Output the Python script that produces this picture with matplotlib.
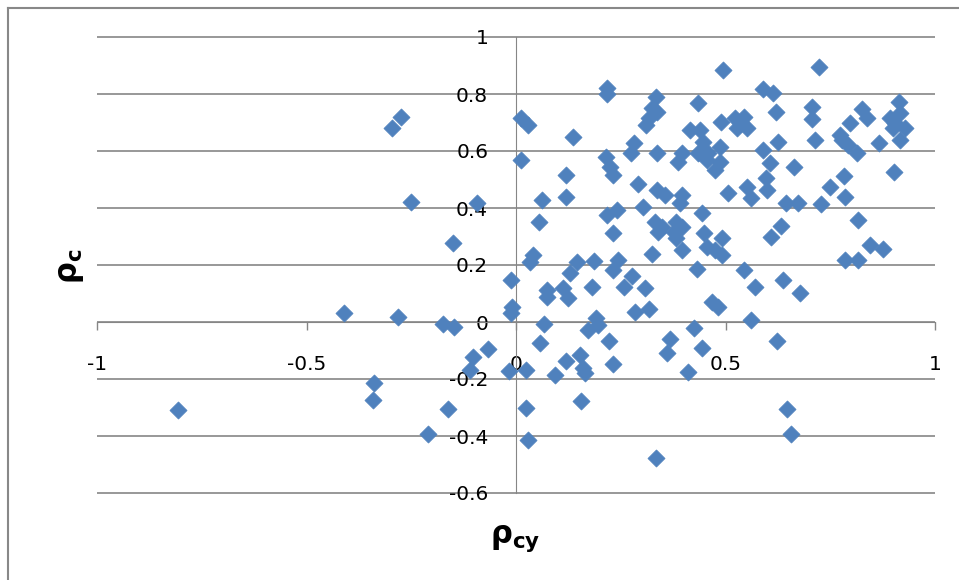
import numpy as np
import matplotlib
matplotlib.use("Agg")
import matplotlib.pyplot as plt
from matplotlib.lines import Line2D

plt.rcParams['font.family'] = 'DejaVu Sans'
plt.rcParams['axes.unicode_minus'] = False
plt.rcParams['mathtext.fontset'] = 'dejavusans'

# rho_cy (x) and rho_c (y)
rho_cy = [
    -0.806, -0.411, -0.338, -0.342, -0.297, -0.274, -0.281, -0.251, -0.209, -0.175,
    -0.163, -0.150, -0.147, -0.110, -0.102, -0.094, -0.068, -0.016, -0.013, -0.010,
    -0.013, 0.011, 0.029, 0.013, 0.023, 0.025, 0.029, 0.041, 0.033, 0.055,
    0.061, 0.068, 0.057, 0.073, 0.073, 0.093, 0.113, 0.119, 0.119, 0.119,
    0.125, 0.129, 0.137, 0.145, 0.153, 0.154, 0.161, 0.165, 0.173, 0.181,
    0.185, 0.191, 0.196, 0.215, 0.216, 0.218, 0.216, 0.224, 0.223, 0.231,
    0.232, 0.232, 0.232, 0.240, 0.244, 0.258, 0.274, 0.278, 0.282, 0.284,
    0.290, 0.304, 0.308, 0.310, 0.318, 0.318, 0.324, 0.324, 0.332, 0.334,
    0.334, 0.336, 0.336, 0.337, 0.340, 0.348, 0.356, 0.361, 0.368, 0.376,
    0.383, 0.383, 0.387, 0.391, 0.395, 0.395, 0.395, 0.395, 0.411, 0.415,
    0.426, 0.431, 0.434, 0.435, 0.439, 0.443, 0.443, 0.446, 0.449, 0.455,
    0.459, 0.467, 0.475, 0.475, 0.483, 0.487, 0.488, 0.489, 0.491, 0.491,
    0.495, 0.505, 0.523, 0.543, 0.527, 0.551, 0.537, 0.545, 0.551, 0.560,
    0.562, 0.570, 0.589, 0.589, 0.597, 0.598, 0.606, 0.608, 0.614, 0.620,
    0.624, 0.626, 0.632, 0.638, 0.644, 0.646, 0.656, 0.664, 0.672, 0.678,
    0.706, 0.706, 0.714, 0.724, 0.727, 0.749, 0.773, 0.777, 0.783, 0.785,
    0.785, 0.793, 0.797, 0.813, 0.817, 0.817, 0.825, 0.837, 0.846, 0.867,
    0.875, 0.893, 0.900, 0.902, 0.905, 0.915, 0.916, 0.916, 0.928, 0.455,
]
rho_c = [
    -0.309, 0.033, -0.213, -0.274, 0.680, 0.718, 0.019, 0.422, -0.394, -0.008,
    -0.306, 0.276, -0.019, -0.168, -0.122, 0.416, -0.096, -0.172, 0.147, 0.054,
    0.033, 0.715, 0.691, 0.568, -0.167, -0.303, -0.414, 0.235, 0.212, 0.350,
    0.428, -0.008, -0.075, 0.112, 0.089, -0.186, 0.118, -0.137, 0.516, 0.440,
    0.083, 0.171, 0.650, 0.212, -0.116, -0.276, -0.163, -0.180, -0.028, 0.124,
    0.214, 0.013, -0.011, 0.580, 0.820, 0.800, 0.375, 0.545, -0.066, -0.147,
    0.516, 0.313, 0.182, 0.393, 0.218, 0.122, 0.592, 0.161, 0.627, 0.036,
    0.484, 0.402, 0.120, 0.691, 0.715, 0.045, 0.750, 0.237, 0.352, 0.791,
    -0.476, 0.594, 0.463, 0.738, 0.317, 0.335, 0.446, -0.110, -0.061, 0.317,
    0.352, 0.294, 0.562, 0.416, 0.592, 0.446, 0.335, 0.253, -0.174, 0.674,
    -0.022, 0.185, 0.770, 0.592, 0.674, 0.384, -0.092, 0.633, 0.313, 0.264,
    0.592, 0.071, 0.533, 0.253, 0.054, 0.615, 0.562, 0.703, 0.294, 0.235,
    0.884, 0.454, 0.715, 0.720, 0.680, 0.680, 0.697, 0.182, 0.475, 0.007,
    0.434, 0.122, 0.816, 0.604, 0.504, 0.463, 0.557, 0.299, 0.805, 0.738,
    -0.068, 0.633, 0.337, 0.147, 0.419, -0.306, -0.394, 0.545, 0.419, 0.101,
    0.753, 0.712, 0.639, 0.894, 0.414, 0.475, 0.656, 0.639, 0.512, 0.438,
    0.218, 0.621, 0.697, 0.592, 0.358, 0.218, 0.746, 0.715, 0.270, 0.629,
    0.256, 0.715, 0.680, 0.527, 0.697, 0.773, 0.732, 0.639, 0.680, 0.568,
]

x_ticks = [-1, -0.5, 0, 0.5, 1]
y_ticks = [-0.6, -0.4, -0.2, 0, 0.2, 0.4, 0.6, 0.8, 1]

W, H = 959, 580
fig = plt.figure(figsize=(W / 100, H / 100), dpi=100)
ax = fig.add_axes([97 / W, 1 - 493 / H, (935 - 97) / W, (493 - 37) / H])

grid_col = '#868686'
ax.hlines(y_ticks, -1, 1, colors=grid_col, lw=1.2, clip_on=False, zorder=1)

ax.scatter(rho_cy, rho_c, marker='D', s=76, color='#4F81BD', edgecolors='#4F81BD',
           linewidths=0.5, zorder=3, clip_on=False)

ax.set_xlim(-1, 1)
ax.set_ylim(-0.6, 1)
ax.set_xticks(x_ticks)
ax.set_yticks(y_ticks)
ax.set_xticklabels([f'{v:g}' for v in x_ticks])
ax.set_yticklabels([f'{v:g}' for v in y_ticks])

for s in ['top', 'right']:
    ax.spines[s].set_visible(False)
ax.spines['left'].set_position(('data', 0))
ax.spines['bottom'].set_position(('data', 0))
ax.spines['left'].set_color(grid_col)
ax.spines['bottom'].set_color(grid_col)
ax.spines['left'].set_zorder(2)
ax.spines['bottom'].set_zorder(2)

ax.tick_params(axis='x', direction='out', length=6, width=1, color=grid_col,
               labelsize=14.5, pad=18)
ax.tick_params(axis='y', length=0, labelsize=14.5, pad=20)

fig.text(0.537, 0.072, r'$\mathbf{\rho_{cy}}$', fontsize=22, ha='center', va='center')
fig.text(0.075, 0.54, r'$\mathbf{\rho_{c}}$', fontsize=22, ha='center', va='center',
         rotation=90)

# outer chart border
fig.add_artist(Line2D([7.5 / W, 7.5 / W], [1 - 7.5 / H, 0], color='#888888', lw=1.5))
fig.add_artist(Line2D([7.5 / W, 1], [1 - 7.5 / H, 1 - 7.5 / H], color='#888888', lw=1.5))

fig.savefig('out.png', dpi=100)
